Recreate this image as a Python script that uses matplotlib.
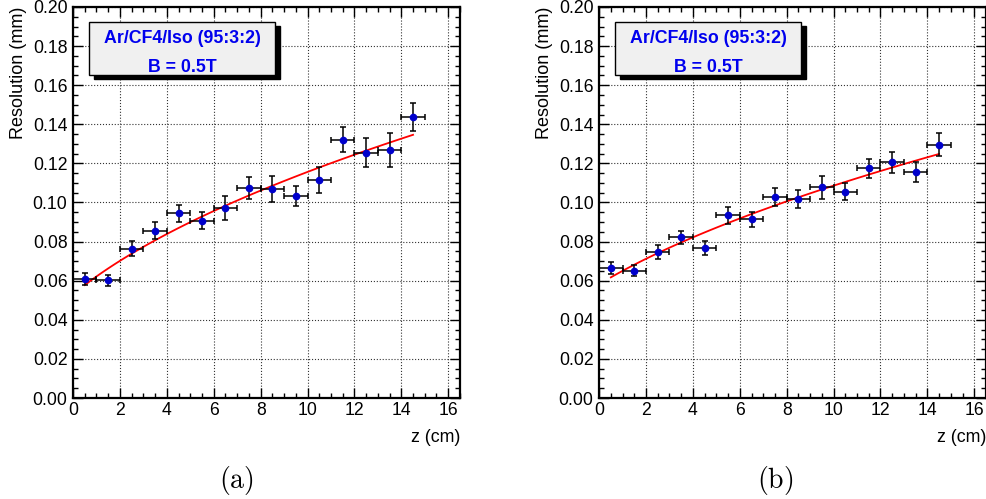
import numpy as np
import matplotlib
matplotlib.use("Agg")
import matplotlib.pyplot as plt
from matplotlib.ticker import MultipleLocator, FormatStrFormatter
from matplotlib.patches import Rectangle

plt.rcParams['font.family'] = ['Liberation Sans', 'DejaVu Sans']
plt.rcParams['mathtext.fontset'] = 'cm'

# z positions (cm) and bin half width
z = [0.5, 1.5, 2.5, 3.5, 4.5, 5.5, 6.5, 7.5, 8.5, 9.5, 10.5, 11.5, 12.5, 13.5, 14.5]
z_err = 0.5

# panel (a)
res_a = [0.0609, 0.0602, 0.0763, 0.0855, 0.0944, 0.0906, 0.0971, 0.1075,
         0.1068, 0.1034, 0.1116, 0.1320, 0.1254, 0.1267, 0.1436]
err_a = [0.0030, 0.0028, 0.0038, 0.0044, 0.0044, 0.0044, 0.0060, 0.0055,
         0.0066, 0.0050, 0.0068, 0.0064, 0.0075, 0.0087, 0.0072]
fit_a = (0.0530, 0.0325)   # sigma0, D : sigma = sqrt(sigma0^2 + D^2 z)

# panel (b)
res_b = [0.0665, 0.0650, 0.0747, 0.0823, 0.0767, 0.0934, 0.0915, 0.1027,
         0.1017, 0.1077, 0.1056, 0.1175, 0.1206, 0.1158, 0.1296]
err_b = [0.0032, 0.0028, 0.0034, 0.0033, 0.0034, 0.0042, 0.0038, 0.0045,
         0.0045, 0.0060, 0.0044, 0.0050, 0.0054, 0.0051, 0.0058]
fit_b = (0.0582, 0.0290)

legend_lines = ["Ar/CF4/Iso (95:3:2)", "B = 0.5T"]
captions = ["(a)", "(b)"]


def draw_panel(ax, res, err, fit):
    ax.set_xlim(0, 16.5)
    ax.set_ylim(0, 0.2)
    ax.xaxis.set_major_locator(MultipleLocator(2))
    ax.xaxis.set_minor_locator(MultipleLocator(0.5))
    ax.yaxis.set_major_locator(MultipleLocator(0.02))
    ax.yaxis.set_minor_locator(MultipleLocator(0.005))
    ax.yaxis.set_major_formatter(FormatStrFormatter('%.2f'))
    ax.tick_params(which='both', direction='in', top=True, right=True,
                   labelsize=12.7, width=1)
    ax.tick_params(which='major', length=7)
    ax.tick_params(which='minor', length=3.5)
    ax.tick_params(axis='x', which='major', pad=3)
    ax.tick_params(axis='y', which='major', pad=4)
    ax.grid(True, which='major', linestyle=':', color='#333333', linewidth=0.8)
    for s in ax.spines.values():
        s.set_linewidth(1.6)

    # fitted curve
    s0, d = fit
    zz = np.linspace(z[0], z[-1], 100)
    ax.plot(zz, np.sqrt(s0 ** 2 + d ** 2 * zz), color='red', lw=1.3, zorder=3)

    ax.errorbar(z, res, xerr=z_err, yerr=err, fmt='o', color='#0000cc',
                ecolor='black', elinewidth=1.1, capsize=2.2, capthick=1.1,
                markersize=4.5, zorder=4)

    ax.set_ylabel("Resolution (mm)", fontsize=13, loc='top', labelpad=4)
    ax.set_xlabel("z (cm)", fontsize=12.8, loc='right', labelpad=7)

    # legend box with shadow (ROOT style)
    x0, y0, w, h = 0.041, 0.826, 0.481, 0.136
    ax.add_patch(Rectangle((x0 + 0.013, y0 - 0.010), w, h, transform=ax.transAxes,
                           facecolor='black', edgecolor='black', zorder=5))
    ax.add_patch(Rectangle((x0, y0), w, h, transform=ax.transAxes,
                           facecolor='#f0f0f0', edgecolor='black', lw=1, zorder=6))
    ax.text(x0 + w / 2, y0 + h * 0.595, legend_lines[0], transform=ax.transAxes,
            ha='center', va='baseline', color='#0000ee', fontsize=12.8,
            fontweight='bold', zorder=7)
    ax.text(x0 + w / 2, y0 + h * 0.065, legend_lines[1], transform=ax.transAxes,
            ha='center', va='baseline', color='#0000ee', fontsize=12.8,
            fontweight='bold', zorder=7)


fig = plt.figure(figsize=(9.87, 4.99), dpi=100)
ax1 = fig.add_axes([0.074, 0.2024, 0.392, 0.7836])
ax2 = fig.add_axes([0.607, 0.2024, 0.392, 0.7836])

draw_panel(ax1, res_a, err_a, fit_a)
draw_panel(ax2, res_b, err_b, fit_b)

fig.text(0.240, 0.022, r'$\mathrm{' + captions[0] + '}$', ha='center', fontsize=20)
fig.text(0.785, 0.022, r'$\mathrm{' + captions[1] + '}$', ha='center', fontsize=20)

fig.savefig("out.png", dpi=100)
